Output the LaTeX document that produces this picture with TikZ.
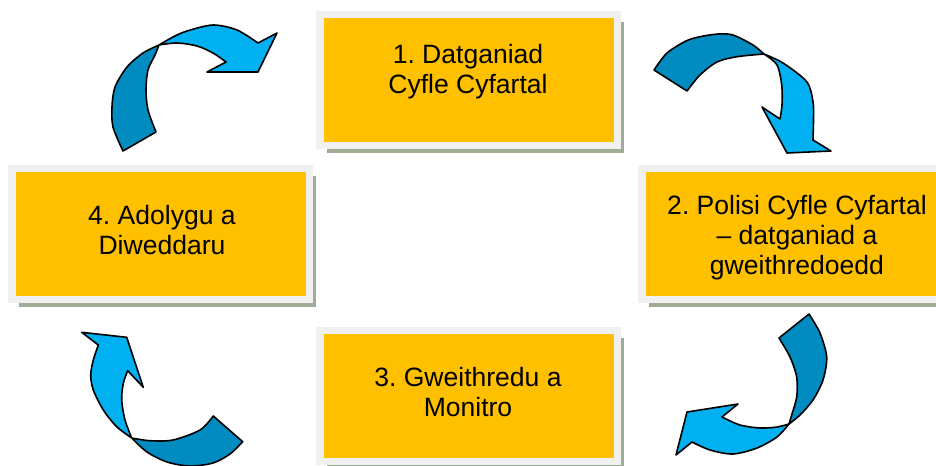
\documentclass[tikz,border=0pt]{standalone}
\usepackage{fontspec}
\setmainfont{Liberation Sans}
\usepackage{tikz}
\usetikzlibrary{shadows}

\definecolor{boxorange}{RGB}{255,192,0}
\definecolor{boxgray}{RGB}{240,240,240}
\definecolor{boxshadow}{RGB}{160,172,150}
\definecolor{arrowlight}{RGB}{0,176,240}
\definecolor{arrowdark}{RGB}{0,140,192}

\begin{document}
\frenchspacing
\begin{tikzpicture}[x=0.75pt,y=-0.75pt,
		box/.style={rectangle, fill=boxorange, draw=boxgray, line width=5.6pt,
			minimum width=223.1pt, minimum height=97.9pt, inner sep=0pt,
			drop shadow={shadow xshift=5.1pt, shadow yshift=-5.8pt, fill=boxshadow, opacity=1}},
		steptext/.style={align=center, inner sep=0pt, font=\fontsize{19.9}{22.5}\selectfont},
		darkpart/.style={fill=arrowdark, draw=black, line width=1.2pt, line join=round},
		lightpart/.style={fill=arrowlight, draw=black, line width=1.2pt, line join=round}]
		\useasboundingbox (0,0) rectangle (936,465);
		\clip (0,0) rectangle (936,465);
		
		\foreach \n/\bx/\by/\tx/\ty/\txt in {
			1/468.5/80/468/71.6/{1. Datganiad\\Cyfle Cyfartal},
			2/790.5/234/797/238.1/{2. Polisi Cyfle Cyfartal\\-- datganiad a\\gweithredoedd},
			3/468.5/396/468/391.8/{3. Gweithredu a\\Monitro},
			4/160.5/234/162/229.8/{4. Adolygu a\\Diweddaru}} {
			\node[box] (step\n) at (\bx,\by) {};
			\node[steptext] (text\n) at (\tx,\ty) {\txt};
		}
		
		% 4 -> 1
		\filldraw[darkpart] plot[smooth] coordinates {(123,151) (113,127) (112,107) (115,87) (127,67) (143,53) (159,45)}
			-- plot[smooth] coordinates {(159,45) (155,55) (148,70) (146,90) (148,110) (156,132)} -- cycle;
		\filldraw[lightpart] plot[smooth] coordinates {(159,45) (173,37) (187,31) (213,25) (237,30) (258,43)}
			-- (277,33) -- (258,72) -- (207,72)
			-- plot[smooth] coordinates {(226,62) (213,53) (197,46) (177,43) (159,45)} -- cycle;
		% 1 -> 2
		\filldraw[darkpart] plot[smooth] coordinates {(654,70) (667,53) (686,41) (700,36.7) (718,34) (733,35) (753,45) (764,54)}
			-- plot[smooth] coordinates {(764,54) (737,56.7) (717,62) (700,75) (687,91)} -- cycle;
		\filldraw[lightpart] plot[smooth] coordinates {(764,54) (783,63) (806.7,81.7) (813,101.7) (813.5,120) (813,140)}
			-- (831,151) -- (787,153) -- (762,107)
			-- plot[smooth] coordinates {(780,119) (782,105) (781.7,85) (777,65) (764,54)} -- cycle;
		% 2 -> 3
		\filldraw[darkpart] plot[smooth] coordinates {(809,314) (820,333) (826.7,357) (823,380) (813,400) (800,415) (789,424)}
			-- plot[smooth] coordinates {(789,424) (791.7,415) (796.7,397) (796.7,377) (790,357) (779,338)} -- cycle;
		\filldraw[lightpart] plot[smooth] coordinates {(789,424) (777,437) (757,448) (733,454) (710,450) (692,442)}
			-- (676,455) -- (687,412) -- (738,404)
			-- plot[smooth] coordinates {(722,417) (740,425) (760,428) (777,427) (789,424)} -- cycle;
		% 3 -> 4
		\filldraw[darkpart] plot[smooth] coordinates {(131.7,438) (147,452) (167,462) (190,466) (213,463) (230,454) (242.7,441.7)}
			-- plot[smooth] coordinates {(213.3,416) (200,430) (173,440) (150,440.7) (131.7,438)} -- cycle;
		\filldraw[lightpart] plot[smooth] coordinates {(131.7,438) (116.7,426.7) (103.3,410) (93.3,390) (90.7,375) (93.3,360) (98.3,345)}
			-- (81.7,332.3) -- (126.7,337.3) -- (143.3,387.3)
			-- plot[smooth] coordinates {(127.7,370.7) (123.3,383.3) (121.7,400) (125,420) (131.7,438)} -- cycle;
\end{tikzpicture}
\end{document}
